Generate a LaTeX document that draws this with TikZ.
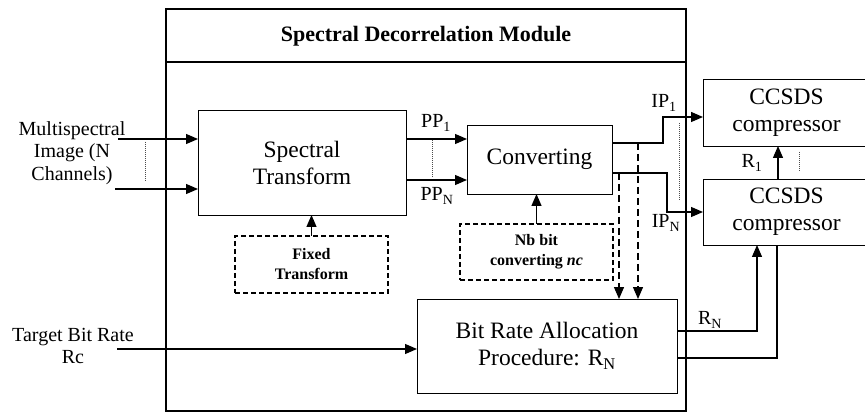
\documentclass[tikz,border=0pt]{standalone}
\usepackage{fontspec}
\setmainfont{Liberation Serif}
\usetikzlibrary{arrows.meta}
\newcommand\sbs[1]{\textsubscript{#1}}
\begin{document}
\begin{tikzpicture}[x=1pt,y=-1pt,
 box/.style={draw,line width=0.9pt,inner sep=0pt,outer sep=0pt,align=center},
 dbox/.style={box,dash pattern=on 5pt off 3pt,line width=1.2pt},
 arr/.style={line width=1.3pt,-{Triangle[length=12pt,width=10pt]}},
 ln/.style={line width=1.3pt},
 dotl/.style={dash pattern=on 1pt off 1pt,line width=0.7pt,black!70},
 darr/.style={arr,dash pattern=on 7pt off 4pt},
 big/.style={font=\fontsize{23.5}{27}\selectfont},
 lab/.style={font=\fontsize{20}{22.5}\selectfont,align=center,inner sep=0pt},
 sm/.style={font=\fontsize{16}{20}\selectfont\bfseries,align=center}
]
\useasboundingbox (0,0) rectangle (865,414);

% module frame
\node[draw,line width=2.8pt,minimum width=520pt,minimum height=402pt,inner sep=0pt,outer sep=0pt] (module) at (426,210) {};
\node[font=\fontsize{22}{26}\selectfont\bfseries] (title) at (426,36) {Spectral Decorrelation Module};
\draw[line width=2.8pt] (module.west |- 0,62) -- (module.east |- 0,62);

% boxes
\node[box,big,minimum width=208pt,minimum height=105pt] (st) at (302,162.5) {Spectral\\Transform};
\node[box,big,minimum width=145pt,minimum height=69pt] (conv) at (539.5,159.5) {Converting};
\node[dbox,sm,minimum width=153pt,minimum height=57pt] (fixed) at (311.5,264.5) {Fixed\\Transform};
\node[dbox,sm,minimum width=153pt,minimum height=56pt] (nb) at (536.5,252) {Nb bit\\converting \textit{nc}};
\node[box,big,minimum width=260pt,minimum height=94pt] (br) at (547,346) {Bit Rate Allocation\\Procedure: R\sbs{N}};
\node[box,big,minimum width=167pt,minimum height=67pt] (c1) at (786.5,112.5) {CCSDS\\compressor};
\node[box,big,minimum width=167pt,minimum height=66pt] (c2) at (786.5,212) {CCSDS\\compressor};

% labels
\node[lab] (ms) at (72,153) {Multispectral\\Image (N\\Channels)};
\node[lab] (tbr) at (73,346) {Target Bit Rate\\Rc};
\node[lab] (pp1) at (436,123) {PP\sbs{1}};
\node[lab] (ppn) at (437,196) {PP\sbs{N}};
\node[lab] (ip1) at (664,103) {IP\sbs{1}};
\node[lab] (ipn) at (666,223) {IP\sbs{N}};
\node[lab] (r1) at (752,163) {R\sbs{1}};
\node[lab] (rn) at (710,320) {R\sbs{N}};

% free ends
\coordinate (in1) at (118,139);
\coordinate (in2) at (115,189);
\coordinate (tin) at (117,349);

% inputs
\draw[arr] (in1) -- (in1 -| st.west);
\draw[arr] (in2) -- (in2 -| st.west);
\draw[dotl] (145,142) -- (145,182);
\draw[arr] (tin) -- (tin -| br.west);

% PP
\draw[arr] (st.east |- 0,139) -- (conv.west |- 0,139);
\draw[arr] (st.east |- 0,180) -- (conv.west |- 0,180);
\draw[dotl] (432,140) -- (432,177);

% parameter boxes
\draw[arr] (fixed.north) -- (fixed.north |- st.south);
\draw[arr] (nb.north) -- (nb.north |- conv.south);

% IP
\draw[arr] (conv.east |- 0,143) -- (663,143) -- (663,117) -- (c1.west |- 0,117);
\draw[arr] (conv.east |- 0,173) -- (667,173) -- (667,212) -- (c2.west |- 0,212);
\draw[dotl] (679,123) -- (679,200);

% dashed to bit rate
\coordinate (d1) at (638,143);
\coordinate (d2) at (619,173);
\draw[darr] (d1) -- (d1 |- br.north);
\draw[darr] (d2) -- (d2 |- br.north);

% R
\coordinate (r1x) at (778,0);
\coordinate (rax) at (757,331);
\coordinate (rbx) at (777,358);
\draw[arr] (r1x |- c2.north) -- (r1x |- c1.south);
\draw[dotl] (799,152) -- (799,172);
\draw[arr] (br.east |- rax) -- (rax) -- (rax |- c2.south);
\draw[ln] (br.east |- rbx) -- (rbx) -- (rbx |- c2.south);
\end{tikzpicture}
\end{document}
